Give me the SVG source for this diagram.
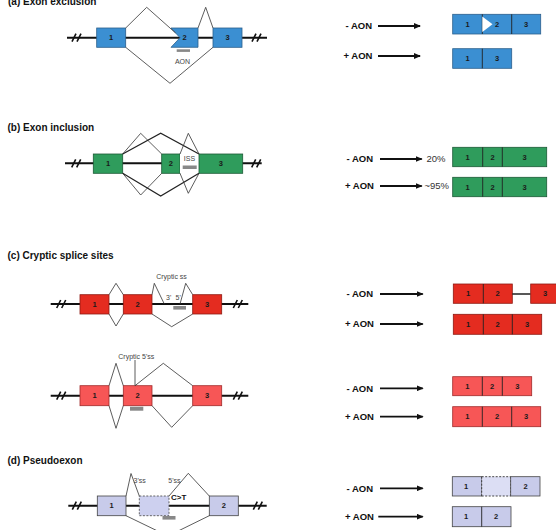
<svg xmlns="http://www.w3.org/2000/svg" width="556" height="530" viewBox="0 0 556 530">
<style>
text{font-family:"Liberation Sans",Arial,sans-serif}
.title{font-size:10px;font-weight:bold;fill:#111}
.aon{font-size:9.5px;font-weight:bold;fill:#111}
.pct{font-size:9.5px;fill:#333}
.num{font-size:7.5px;font-weight:bold;fill:#1a1a1a;text-anchor:middle}
.lbl{font-size:7px;fill:#444}
.main{stroke:#111;stroke-width:2;fill:none}
.sp{stroke:#333;stroke-width:0.8;fill:none}
.spb{stroke:#222;stroke-width:1.2;fill:none}
.arr{stroke:#111;stroke-width:1.8;fill:none;marker-end:url(#ah)}
.brk{stroke:#111;stroke-width:1.6;fill:none}
.blue{fill:#3b8fd2;stroke:#2b5f8c;stroke-width:0.8}
.green{fill:#2f9c5c;stroke:#1c5a35;stroke-width:0.8}
.red{fill:#e42c20;stroke:#8e1a12;stroke-width:0.8}
.lred{fill:#f75656;stroke:#a02a2a;stroke-width:0.8}
.lav{fill:#c8cbea;stroke:#444;stroke-width:0.8}
.pse{fill:#cdd0ef;stroke:#555;stroke-width:0.9;stroke-dasharray:2 1.5}
.div{stroke:#222;stroke-width:0.9}
.ddiv{stroke:#333;stroke-width:0.9;stroke-dasharray:2 1.5}
.bar{fill:#888}
</style>
<defs>
<marker id="ah" markerWidth="7" markerHeight="6" refX="6" refY="3" orient="auto" markerUnits="userSpaceOnUse">
<path d="M0,0 L7,3 L0,6 Z" fill="#111"/>
</marker>
<g id="brk"><path class="brk" d="M-5,4 L-1,-4 M0,4 L4,-4"/></g>
</defs>

<!-- (a) Exon exclusion -->
<text class="title" x="8" y="4.5">(a) Exon exclusion</text>
<g id="a-gene">
<path class="main" d="M67,37.7 H267"/>
<use href="#brk" x="77" y="37.7"/>
<use href="#brk" x="257" y="37.7"/>
</g>
<g id="a-exon1"><rect class="blue" x="96.7" y="28" width="29" height="19.3"/><text class="num" x="111.2" y="40.4">1</text></g>
<g id="a-exon2"><path class="blue" d="M171,28 H198 V47.3 H171 L180,37.7 Z"/><text class="num" x="184.5" y="40.4">2</text></g>
<g id="a-exon3"><rect class="blue" x="213" y="28" width="29" height="19.3"/><text class="num" x="227.5" y="40.4">3</text></g>
<g id="a-aon"><rect class="bar" x="176.7" y="49.3" width="13.3" height="2.6"/><text class="lbl" x="182.5" y="63.5" text-anchor="middle">AON</text></g>
<g id="a-minus"><text class="aon" x="345.5" y="29.4">- AON</text><rect class="blue" x="452.7" y="14.3" width="88" height="19.7"/><path class="div" d="M482.3,14.3 V34 M511.7,14.3 V34"/><path d="M482.3,16.5 L492.5,24.2 L482.3,32 Z" fill="#fff"/><text class="num" x="467.5" y="26.8">1</text><text class="num" x="497" y="26.8">2</text><text class="num" x="526" y="26.8">3</text></g>
<g id="a-plus"><text class="aon" x="343.5" y="59.4">+ AON</text><rect class="blue" x="452.7" y="48.7" width="59" height="19.6"/><path class="div" d="M482.3,48.7 V68.3"/><text class="num" x="467.5" y="61.1">1</text><text class="num" x="497" y="61.1">3</text></g>

<!-- (b) Exon inclusion -->
<text class="title" x="7.5" y="131.3">(b) Exon inclusion</text>
<g id="b-gene">
<path class="main" d="M65,163.3 H261.7"/>
<use href="#brk" x="76.7" y="163.3"/>
<use href="#brk" x="256.7" y="163.3"/>
</g>
<g id="b-exon1"><rect class="green" x="93.3" y="154" width="29.4" height="19.3"/><text class="num" x="108" y="166">1</text></g>
<g id="b-exon2"><rect class="green" x="161.7" y="154" width="18.3" height="19.3"/><text class="num" x="170.8" y="166">2</text></g>
<g id="b-iss"><rect x="180" y="154" width="19" height="19.3" fill="#fff"/><rect class="bar" x="182.7" y="165.5" width="14" height="3.5"/><text class="lbl" x="189.5" y="161" text-anchor="middle">ISS</text></g>
<g id="b-exon3"><rect class="green" x="199" y="154" width="43.7" height="19.3"/><text class="num" x="220.8" y="166">3</text></g>
<g id="b-minus"><text class="aon" x="346.5" y="162.4">- AON</text><text class="pct" x="426.5" y="162.4">20%</text><rect class="green" x="452.7" y="147.3" width="94" height="19.4"/><path class="div" d="M482.7,147.3 V166.7 M502.3,147.3 V166.7"/><text class="num" x="467.7" y="159.7">1</text><text class="num" x="492.5" y="159.7">2</text><text class="num" x="524.5" y="159.7">3</text></g>
<g id="b-plus"><text class="aon" x="345" y="189.4">+ AON</text><text class="pct" x="424.5" y="189.4">~95%</text><rect class="green" x="452.7" y="177.3" width="94" height="19.4"/><path class="div" d="M482.7,177.3 V196.7 M502.3,177.3 V196.7"/><text class="num" x="467.7" y="189.7">1</text><text class="num" x="492.5" y="189.7">2</text><text class="num" x="524.5" y="189.7">3</text></g>

<!-- (c) Cryptic splice sites -->
<text class="title" x="7.5" y="258.9">(c) Cryptic splice sites</text>
<g id="c1-gene">
<path class="main" d="M50.7,304 H248.3"/>
<use href="#brk" x="61.7" y="304"/>
<use href="#brk" x="238.3" y="304"/>
</g>
<g id="c1-exon1"><rect class="red" x="80" y="294.7" width="29" height="19.3"/><text class="num" x="94.5" y="306.8">1</text></g>
<g id="c1-exon2"><rect class="red" x="123.3" y="294.7" width="28.7" height="19.3"/><text class="num" x="137.7" y="306.8">2</text></g>
<g id="c1-exon3"><rect class="red" x="192.7" y="294.7" width="29" height="19.3"/><text class="num" x="207.2" y="306.8">3</text></g>
<g id="c1-labels"><text class="lbl" x="171.5" y="278.5" text-anchor="middle">Cryptic ss</text><text class="lbl" x="166" y="300">3'</text><text class="lbl" x="175.5" y="300">5'</text><rect class="bar" x="173.3" y="306" width="12.7" height="3.6"/></g>
<g id="c1-minus"><text class="aon" x="346.5" y="297.4">- AON</text><rect class="red" x="453.3" y="284" width="59" height="19.3"/><path class="div" d="M483.3,284 V303.3"/><path d="M512.3,294 H530.7" stroke="#111" stroke-width="1.4"/><rect class="red" x="530.7" y="284" width="30" height="19.3"/><text class="num" x="468" y="296.4">1</text><text class="num" x="497.5" y="296.4">2</text><text class="num" x="545" y="296.4">3</text></g>
<g id="c1-plus"><text class="aon" x="345" y="327.4">+ AON</text><rect class="red" x="453.3" y="314.3" width="88.4" height="20"/><path class="div" d="M483.3,314.3 V334.3 M512.3,314.3 V334.3"/><text class="num" x="468" y="327">1</text><text class="num" x="497.5" y="327">2</text><text class="num" x="527" y="327">3</text></g>

<g id="c2-gene">
<path class="main" d="M50.7,395.7 H248.3"/>
<use href="#brk" x="61.7" y="395.7"/>
<use href="#brk" x="238.3" y="395.7"/>
</g>
<g id="c2-exon1"><rect class="lred" x="80" y="385.7" width="29" height="20"/><text class="num" x="94.5" y="398.3">1</text></g>
<g id="c2-exon2"><rect class="lred" x="123.3" y="385.7" width="28.7" height="20"/><text class="num" x="137.7" y="398.3">2</text></g>
<g id="c2-exon3"><rect class="lred" x="192.7" y="385.7" width="29" height="20"/><text class="num" x="207.2" y="398.3">3</text></g>
<g id="c2-labels"><text class="lbl" x="136.3" y="358.5" text-anchor="middle">Cryptic 5'ss</text><rect class="bar" x="130" y="406.7" width="13.3" height="4"/></g>
<g id="c2-minus"><text class="aon" x="346.5" y="391.7">- AON</text><rect class="lred" x="452.7" y="376.7" width="79" height="19"/><path class="div" d="M482.3,376.7 V395.7 M502.3,376.7 V395.7"/><text class="num" x="467.3" y="388.9">1</text><text class="num" x="492" y="388.9">2</text><text class="num" x="517.3" y="388.9">3</text></g>
<g id="c2-plus"><text class="aon" x="345" y="420">+ AON</text><rect class="lred" x="452.7" y="406.7" width="88" height="20"/><path class="div" d="M482.3,406.7 V426.7 M511.7,406.7 V426.7"/><text class="num" x="467.3" y="419.4">1</text><text class="num" x="497" y="419.4">2</text><text class="num" x="526" y="419.4">3</text></g>

<!-- (d) Pseudoexon -->
<text class="title" x="7.5" y="464.3">(d) Pseudoexon</text>
<g id="d-gene">
<path class="main" d="M68.3,505.7 H266.7"/>
<use href="#brk" x="77.3" y="505.7"/>
<use href="#brk" x="258.3" y="505.7"/>
</g>
<g id="d-exon1"><rect class="lav" x="97.3" y="496" width="28.7" height="19.7"/><text class="num" x="111.7" y="508.4">1</text></g>
<g id="d-pseudo"><rect class="pse" x="139.3" y="496" width="29.7" height="19.7"/></g>
<g id="d-exon2"><rect class="lav" x="209.3" y="496" width="29" height="19.7"/><text class="num" x="223.8" y="508.4">2</text></g>
<g id="d-labels"><text class="lbl" x="133.5" y="482.5">3'ss</text><text class="lbl" x="168.3" y="482.5">5'ss</text><text x="171" y="500.3" font-size="8" font-weight="bold" fill="#111">C&gt;T</text><rect class="bar" x="162.5" y="516" width="13" height="3.6"/></g>
<g id="d-minus"><text class="aon" x="346.5" y="491.7">- AON</text><rect class="lav" x="452.3" y="476.7" width="29.4" height="19.3"/><rect x="481.7" y="476.7" width="29" height="19.3" fill="#dcdef4"/><path class="ddiv" d="M481.7,476.7 H510.7 M481.7,496 H510.7 M481.7,476.7 V496 M510.7,476.7 V496"/><rect class="lav" x="510.7" y="476.7" width="29.3" height="19.3"/><text class="num" x="466" y="488.9">1</text><text class="num" x="525.7" y="488.9">2</text></g>
<g id="d-plus"><text class="aon" x="345" y="520">+ AON</text><rect class="lav" x="452.3" y="506.7" width="58.7" height="20"/><path class="div" d="M481.7,506.7 V526.7"/><text class="num" x="466" y="519.4">1</text><text class="num" x="496" y="519.4">2</text></g>

<g id="connectors">
<path class="sp" d="M125.7,28 L146.7,7.3 L175.5,32.9"/>
<path class="sp" d="M198,28 L205.7,7.3 L213,28"/>
<path class="sp" d="M125.7,47.3 L170,83.3 L213,47.3"/>
<path class="arr" d="M378,26 H420"/>
<path class="arr" d="M378,56 H420"/>

<path class="sp" d="M122.7,154 L140.7,133.3 L161.7,154"/>
<path class="spb" d="M122.7,154 L160.7,133.3 L199,154"/>
<path class="sp" d="M180,154 L188.3,133.3 L199,154"/>
<path class="sp" d="M122.7,173.3 L140.7,195 L161.7,173.3"/>
<path class="spb" d="M122.7,173.3 L160.7,196 L199,173.3"/>
<path class="sp" d="M180,173.3 L188.3,193.3 L199,173.3"/>
<path class="arr" d="M380,159 H421.7"/>
<path class="arr" d="M380,186 H421.7"/>

<path class="sp" d="M109,294.7 L116,283.3 L123.3,294.7"/>
<path class="sp" d="M109,314 L116,326 L123.3,314"/>
<path class="sp" d="M152,294.7 L154.3,283.3 L164.3,304"/>
<path class="sp" d="M180,304 L185.7,283.3 L192.7,294.7"/>
<path class="sp" d="M152,314 L171.7,326.7 L192.7,314"/>
<path class="arr" d="M380,294 H422.7"/>
<path class="arr" d="M380,324 H422.7"/>

<path class="sp" d="M109,385.7 L116,363.3 L123.3,385.7"/>
<path class="sp" d="M109,405.7 L116,428.3 L123.3,405.7"/>
<path class="sp" d="M135,360 V385.7 L163.3,363.3 L192.7,385.7"/>
<path class="sp" d="M152,405.7 L171.7,427.3 L192.7,405.7"/>
<path class="arr" d="M380,388.3 H422.7"/>
<path class="arr" d="M380,416.7 H422.7"/>

<path class="sp" d="M126,496 L131,473.5 L139.3,496"/>
<path class="sp" d="M169,496 L188.3,473.3 L209.3,496"/>
<path class="sp" d="M126,515.7 L168,536 L209.3,515.7"/>
<path class="arr" d="M380,488.3 H422.7"/>
<path class="arr" d="M378.3,516.7 H422.7"/>
</g>
</svg>
